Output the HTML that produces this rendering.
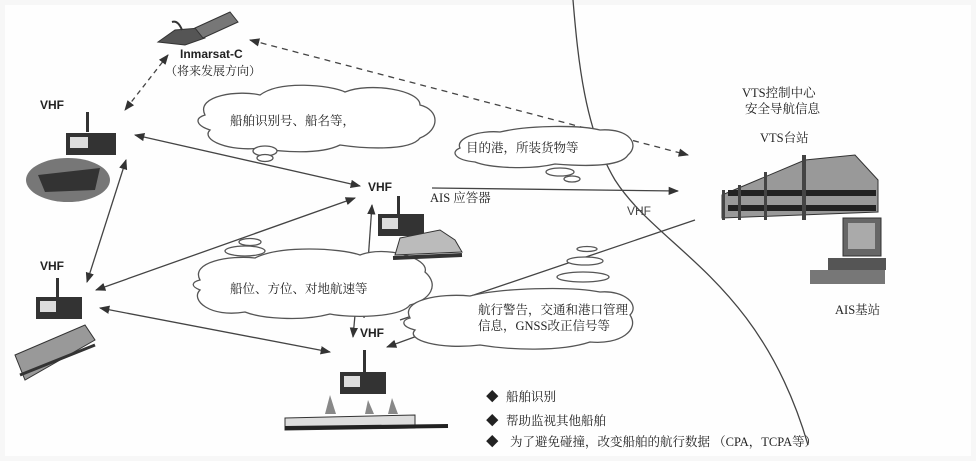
<!DOCTYPE html>
<html><head><meta charset="utf-8"><style>
html,body{margin:0;padding:0;background:#fafafa;}
svg{display:block;}
.cn{font-family:"Liberation Serif","Noto Serif CJK SC",serif;fill:#222;}
.b{font-family:"Liberation Sans",sans-serif;font-weight:bold;fill:#222;}
</style></head><body>
<svg width="976" height="461" viewBox="0 0 976 461" xmlns="http://www.w3.org/2000/svg">
<defs>
<marker id="a" viewBox="0 0 10 10" refX="9" refY="5" markerWidth="8" markerHeight="8" orient="auto-start-reverse"><path d="M0,1 L10,5 L0,9z" fill="#333"/></marker>
</defs>
<rect width="976" height="461" fill="#f7f7f7"/>
<rect x="5" y="5" width="966" height="451" fill="#fefefe"/>
<g stroke="#444" stroke-width="1.3" fill="none">
<path d="M573,0 C578,60 585,130 615,180 C660,250 760,280 808,445"/>
<path d="M168,55 L125,110" stroke-dasharray="5,4" marker-start="url(#a)" marker-end="url(#a)"/>
<path d="M250,40 L688,155" stroke-dasharray="6,5" marker-start="url(#a)" marker-end="url(#a)"/>
<path d="M135,135 L360,186" marker-start="url(#a)" marker-end="url(#a)"/>
<path d="M432,188 L678,191" marker-end="url(#a)"/>
<path d="M87,282 L126,160" marker-start="url(#a)" marker-end="url(#a)"/>
<path d="M96,290 L355,198" marker-start="url(#a)" marker-end="url(#a)"/>
<path d="M100,308 L330,352" marker-start="url(#a)" marker-end="url(#a)"/>
<path d="M364,318 L372,205" marker-end="url(#a)"/>
<path d="M355,315 L353,337" marker-end="url(#a)"/>
<path d="M420,335 L387,347" marker-end="url(#a)"/>
<path d="M400,320 L695,220"/>
</g>
<g fill="#fff" stroke="#555" stroke-width="1.3">
<path d="M205,115 C195,95 240,90 260,95 C280,80 330,85 345,92 C370,82 420,90 420,105 C440,110 440,130 420,138 C410,152 360,148 340,145 C320,155 280,152 260,148 C230,152 200,140 210,130 C195,125 195,118 205,115z"/>
<ellipse cx="265" cy="151" rx="12" ry="5"/><ellipse cx="265" cy="158" rx="8" ry="3.5"/>
<path d="M460,148 C455,138 480,130 500,132 C530,125 580,125 600,130 C630,128 640,145 628,155 C620,168 580,166 555,164 C530,170 490,168 475,162 C455,160 450,152 460,148z"/>
<ellipse cx="560" cy="172" rx="14" ry="4"/><ellipse cx="572" cy="179" rx="8" ry="3"/>
<path d="M200,280 C190,262 230,255 255,258 C280,245 340,248 360,255 C385,245 430,258 425,272 C440,285 430,300 410,305 C400,318 350,318 330,314 C300,322 260,318 245,312 C210,318 190,300 200,290 C190,286 192,282 200,280z"/>
<ellipse cx="245" cy="251" rx="20" ry="5"/><ellipse cx="250" cy="242" rx="11" ry="3.5"/>
<path d="M410,318 C400,300 440,293 470,296 C500,288 570,286 600,292 C625,290 640,305 630,315 C640,330 620,345 590,342 C560,352 510,350 480,345 C440,350 405,340 415,330 C400,326 402,320 410,318z"/>
<ellipse cx="583" cy="277" rx="26" ry="5"/><ellipse cx="585" cy="261" rx="18" ry="4"/><ellipse cx="587" cy="249" rx="10" ry="2.5"/>
</g>
<g fill="#555" stroke="#333">
<path d="M158,42 L175,30 L200,28 L205,38 L185,45z"/>
<path d="M195,28 L230,12 L238,22 L203,38z" fill="#777"/>
<path d="M172,22 Q178,20 182,30" fill="none" stroke-width="2"/>
</g>
<text class="b" x="180" y="58" font-size="12">Inmarsat-C</text>
<text class="cn" x="165" y="75" font-size="12">（将来发展方向）</text>
<g fill="#333">
<rect x="66" y="133" width="50" height="22"/><rect x="86" y="112" width="3" height="20"/>
<rect x="36" y="297" width="46" height="22"/><rect x="56" y="278" width="3" height="19"/>
<rect x="378" y="214" width="46" height="22"/><rect x="397" y="196" width="3" height="18"/>
<rect x="340" y="372" width="46" height="22"/><rect x="363" y="350" width="3" height="22"/>
</g>
<g fill="#ddd"><rect x="70" y="137" width="18" height="11"/><rect x="40" y="301" width="16" height="11"/><rect x="382" y="218" width="16" height="11"/><rect x="344" y="376" width="16" height="11"/></g>
<ellipse cx="68" cy="180" rx="42" ry="22" fill="#777"/>
<path d="M38,175 L100,168 L95,190 L45,192z" fill="#333"/>
<path d="M15,355 L85,325 L95,340 L25,380z" fill="#999" stroke="#333"/>
<path d="M20,375 L95,345" stroke="#333" stroke-width="3"/>
<path d="M400,238 L440,230 L455,240 L462,252 L395,255z" fill="#bbb" stroke="#333"/>
<path d="M393,258 L462,255" stroke="#333" stroke-width="4"/>
<path d="M285,418 L415,415 L415,428 L285,430z" fill="#ddd" stroke="#333"/>
<path d="M285,428 L448,426" stroke="#222" stroke-width="4"/>
<g fill="#888"><path d="M325,414 L330,395 L336,414z"/><path d="M365,414 L368,400 L374,414z"/><path d="M388,414 L392,398 L398,414z"/></g>
<path d="M722,195 L805,160 L855,155 L878,180 L878,212 L722,218z" fill="#999" stroke="#333"/>
<g fill="#222"><rect x="728" y="190" width="148" height="6"/><rect x="728" y="205" width="148" height="6"/></g>
<g fill="#444"><rect x="722" y="190" width="3" height="30"/><rect x="738" y="185" width="3" height="35"/><rect x="764" y="172" width="3" height="48"/><rect x="802" y="155" width="4" height="65"/></g>
<rect x="843" y="218" width="38" height="38" fill="#666" stroke="#333"/>
<rect x="848" y="223" width="27" height="26" fill="#aaa"/>
<rect x="828" y="258" width="58" height="12" fill="#555"/>
<rect x="810" y="270" width="75" height="14" fill="#777"/>
<g class="b" font-size="12">
<text x="40" y="109">VHF</text>
<text x="368" y="191">VHF</text>
<text x="40" y="270">VHF</text>
<text x="360" y="337">VHF</text>
<text x="627" y="215" font-weight="normal" fill="#444">VHF</text>
</g>
<g class="cn" font-size="12.5">
<text x="230" y="125">船舶识别号、船名等，</text>
<text x="466" y="152">目的港，所装货物等</text>
<text x="430" y="202">AIS 应答器</text>
<text x="230" y="293">船位、方位、对地航速等</text>
<text x="478" y="314">航行警告，交通和港口管理</text>
<text x="478" y="330">信息，GNSS改正信号等</text>
<text x="742" y="97">VTS控制中心</text>
<text x="745" y="113">安全导航信息</text>
<text x="760" y="142">VTS台站</text>
<text x="835" y="314">AIS基站</text>
<text x="486" y="401">◆</text><text x="506" y="401">船舶识别</text>
<text x="486" y="425">◆</text><text x="506" y="425">帮助监视其他船舶</text>
<text x="486" y="446">◆</text><text x="510" y="446">为了避免碰撞，改变船舶的航行数据 （CPA，TCPA等）</text>
</g>
</svg>
</body></html>
